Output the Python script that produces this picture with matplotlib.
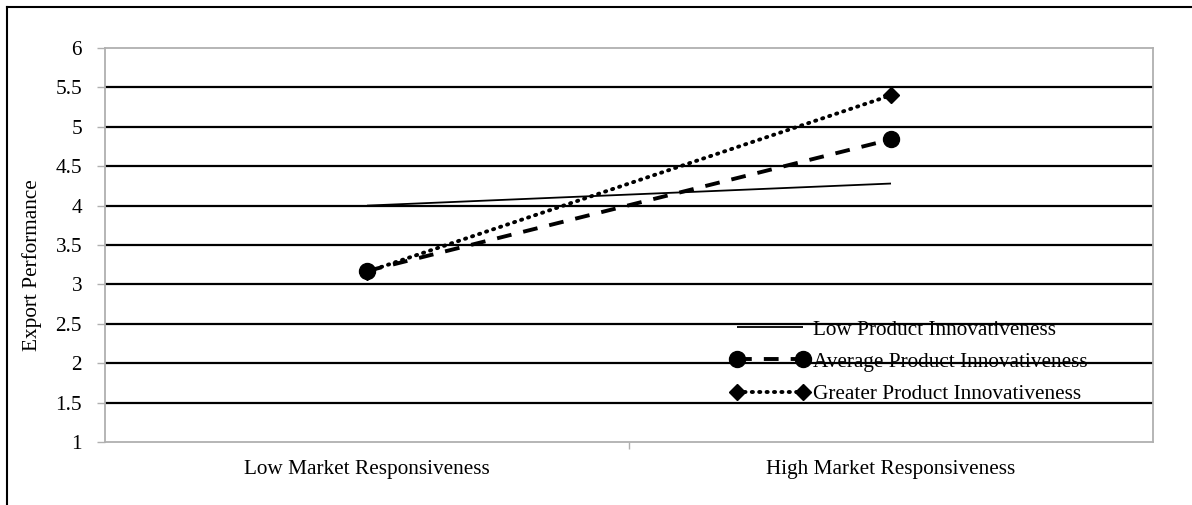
import matplotlib
matplotlib.use("Agg")
import matplotlib.pyplot as plt
from matplotlib.lines import Line2D

plt.rcParams['font.family'] = ['Liberation Serif', 'DejaVu Serif']

categories = ["Low Market Responsiveness", "High Market Responsiveness"]
series_names = ["Low Product Innovativeness", "Average Product Innovativeness",
                "Greater Product Innovativeness"]
low_vals = [4.00, 4.28]
avg_vals = [3.17, 4.84]
greater_vals = [3.16, 5.40]
yticks = [1, 1.5, 2, 2.5, 3, 3.5, 4, 4.5, 5, 5.5, 6]
ytick_labels = ["1", "1.5", "2", "2.5", "3", "3.5", "4", "4.5", "5", "5.5", "6"]

FS = 15.3

fig = plt.figure(figsize=(11.92, 5.05), dpi=100)
ax = fig.add_axes([105/1192, 63/505, (1153-105)/1192, (442-48)/505])

x = [0, 1]
ax.set_xlim(-0.5, 1.5)
ax.set_ylim(1, 6)

for yv in yticks[1:-1]:
    ax.axhline(yv, color='black', lw=1.6, zorder=1)

l1, = ax.plot(x, low_vals, color='black', lw=1.3, solid_capstyle='butt', zorder=3,
              label=series_names[0])
l2, = ax.plot(x, avg_vals, color='black', lw=2.8, ls=(0, (3.8, 3.1)), marker='o',
              markersize=11.5, zorder=4, label=series_names[1])
l3, = ax.plot(x, greater_vals, color='black', lw=2.8, ls=(0, (0.3, 1.6)),
              dash_capstyle='round', marker='D', markersize=8, zorder=3,
              label=series_names[2])

ax.set_xticks(x)
ax.set_xticklabels(categories, fontsize=FS)
ax.set_yticks(yticks)
ax.set_yticklabels(ytick_labels, fontsize=FS)
ax.set_xticks([0.5], minor=True)
ax.tick_params(axis='x', which='major', length=0, pad=13)
ax.tick_params(axis='x', which='minor', length=5, color='#b0b0b0', width=1)
ax.tick_params(axis='y', length=6, color='#b0b0b0', width=1, pad=10.5)
for s in ax.spines.values():
    s.set_color('#b0b0b0')
    s.set_linewidth(1.3)

ax.set_ylabel("Export Performance", fontsize=FS)
ax.yaxis.set_label_coords((41.5-105)/1048, (442-265)/394)

leg = ax.legend(handles=[l1, l2, l3], loc='lower left',
                bbox_to_anchor=((722-105)/1048, 0.0746),
                frameon=False, fontsize=FS, handlelength=3.7, handletextpad=0.17,
                labelspacing=0.58, numpoints=2, borderaxespad=0)

# outer figure border (top and left)
fig.add_artist(Line2D([7/1192, 7/1192], [0, 1 - 7/505], color='black', lw=1.5,
                      transform=fig.transFigure))
fig.add_artist(Line2D([7/1192, 1], [1 - 7/505, 1 - 7/505], color='black', lw=1.5,
                      transform=fig.transFigure))

fig.savefig("out.png", dpi=100)
